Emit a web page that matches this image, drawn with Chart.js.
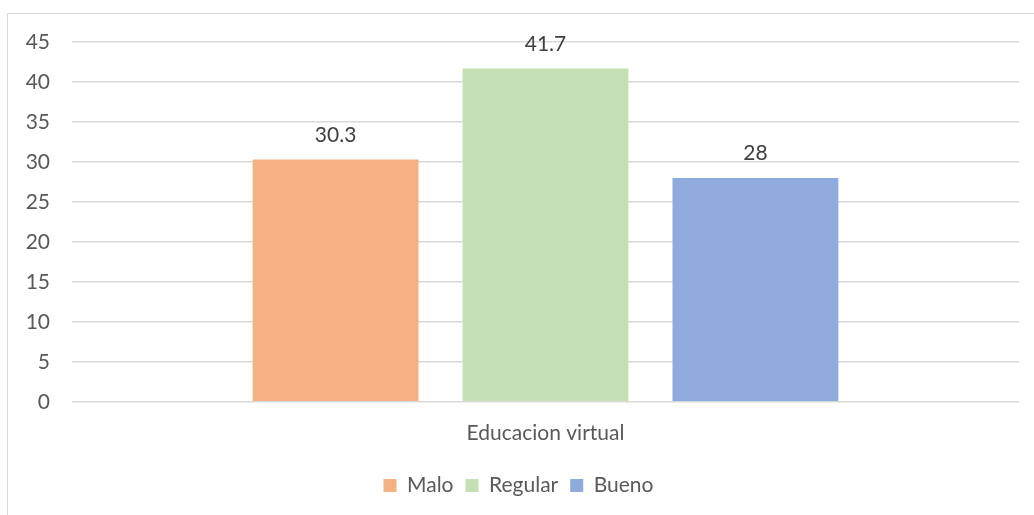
<!DOCTYPE html>
<html>
<head>
<meta charset="utf-8">
<script src="https://cdn.jsdelivr.net/npm/chart.js@4.4.0/dist/chart.umd.min.js"></script>
<style>
    html, body {
        margin: 0;
        padding: 0;
        background: #ffffff;
        overflow: hidden;
    }
    #frame {
        position: absolute;
        left: 7px;
        top: 13px;
        width: 1040px;
        height: 520px;
        border: 1px solid #d9d9d9;
    }
    #barChart {
        position: absolute;
        left: 0;
        top: 0;
    }
</style>
</head>
<body>
<div id="frame"></div>
<canvas id="barChart" width="1034" height="515"></canvas>
<script>
const categories = ["Educacion virtual"];
const seriesNames = ["Malo", "Regular", "Bueno"];
const malo = [30.3];
const regular = [41.7];
const bueno = [28];
const yTicks = [0, 5, 10, 15, 20, 25, 30, 35, 40, 45];

const colors = ["#f4b183", "#c5e0b4", "#8faadc"];
const textColor = "#595959";
const fontFamily = "Lato, 'Open Sans', sans-serif";

const valueLabels = {
    id: "valueLabels",
    afterDatasetsDraw(chart) {
        const ctx = chart.ctx;
        ctx.save();
        ctx.font = "21px " + fontFamily;
        ctx.fillStyle = "#404040";
        ctx.textAlign = "center";
        ctx.textBaseline = "bottom";
        chart.data.datasets.forEach((ds, i) => {
            const meta = chart.getDatasetMeta(i);
            meta.data.forEach((bar, j) => {
                ctx.fillText(String(ds.data[j]), bar.x, bar.y - 14);
            });
        });
        ctx.restore();
    },
};

new Chart(document.getElementById("barChart"), {
    type: "bar",
    data: {
        labels: categories,
        datasets: [
            { label: seriesNames[0], data: malo, backgroundColor: colors[0] },
            { label: seriesNames[1], data: regular, backgroundColor: colors[1] },
            { label: seriesNames[2], data: bueno, backgroundColor: colors[2] },
        ],
    },
    options: {
        responsive: false,
        animation: false,
        categoryPercentage: 0.665,
        barPercentage: 0.79,
        layout: {
            padding: { left: 18, right: 15, top: 42, bottom: 9 },
        },
        plugins: {
            tooltip: { enabled: false },
            legend: {
                position: "bottom",
                labels: {
                    color: textColor,
                    boxWidth: 13,
                    boxHeight: 13,
                    padding: 12,
                    font: { family: fontFamily, size: 21 },
                },
            },
        },
        scales: {
            x: {
                afterFit(axis) {
                    axis.height += 6;
                },
                grid: { display: false },
                border: { display: false },
                ticks: {
                    color: textColor,
                    padding: 11,
                    font: { family: fontFamily, size: 21 },
                },
            },
            y: {
                min: 0,
                max: 45,
                afterFit(axis) {
                    axis.width = 54;
                },
                afterBuildTicks(axis) {
                    axis.ticks = yTicks.map((v) => ({ value: v }));
                },
                grid: {
                    color: "#d9d9d9",
                    lineWidth: 1.5,
                    drawTicks: false,
                },
                border: { display: false },
                ticks: {
                    color: textColor,
                    padding: 22,
                    font: { family: fontFamily, size: 21 },
                },
            },
        },
    },
    plugins: [valueLabels],
});
</script>
</body>
</html>
